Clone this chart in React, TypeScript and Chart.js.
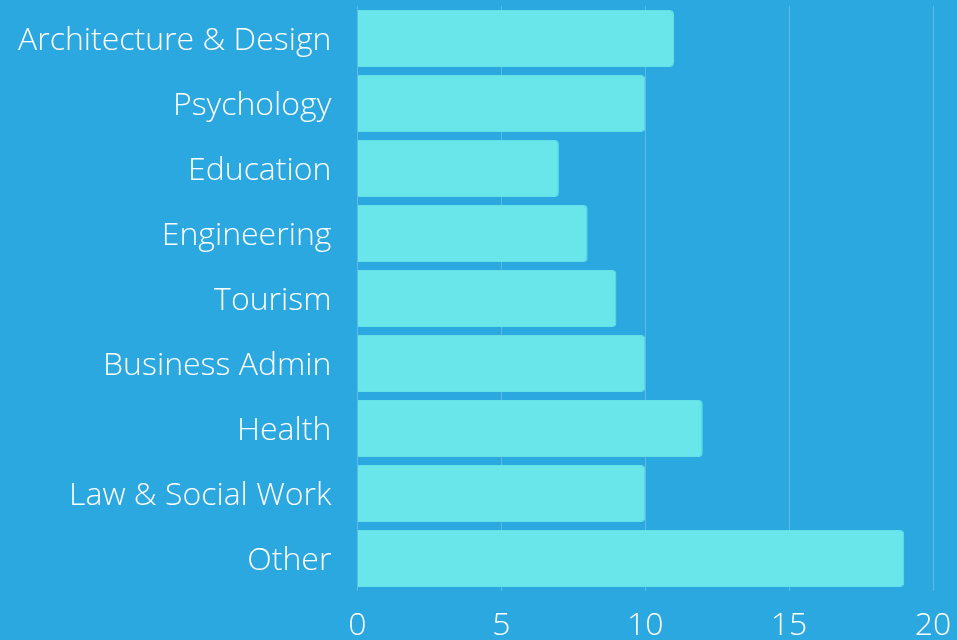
import React, { useEffect, useRef } from "react";
import { Chart, registerables } from "chart.js";

Chart.register(...registerables);

const categories = [
  "Architecture & Design",
  "Psychology",
  "Education",
  "Engineering",
  "Tourism",
  "Business Admin",
  "Health",
  "Law & Social Work",
  "Other",
];
const values = [11, 10, 7, 8, 9, 10, 12, 10, 19];
const xTicks = [0, 5, 10, 15, 20];

export default function App() {
  const ref = useRef<HTMLCanvasElement | null>(null);
  useEffect(() => {
    if (!ref.current) return;
    const font = { family: "'Open Sans'", size: 32, weight: 300 as any };
    const chart = new Chart(ref.current, {
      type: "bar",
      data: {
        labels: categories,
        datasets: [
          {
            data: values,
            backgroundColor: "#69e6e9",
            borderColor: "#64e0e7",
            borderWidth: 1,
            borderRadius: 4,
            borderSkipped: "start",
            categoryPercentage: 0.877,
            barPercentage: 1,
          },
        ],
      },
      options: {
        indexAxis: "y",
        animation: false,
        responsive: false,
        maintainAspectRatio: false,
        layout: { padding: { top: 6, bottom: 0, left: 18, right: 24 } },
        plugins: { legend: { display: false }, tooltip: { enabled: false } },
        scales: {
          x: {
            min: 0,
            max: 20,
            afterBuildTicks: (s: any) => {
              s.ticks = xTicks.map((v) => ({ value: v }));
            },
            afterFit: (s: any) => {
              s.paddingLeft = 0;
              s.paddingRight = 0;
              s.height = 49;
            },
            grid: { color: "rgba(255,255,255,0.22)", drawTicks: false, lineWidth: 1 },
            border: { display: false },
            ticks: { color: "#ffffff", font, padding: 16 },
          },
          y: {
            afterFit: (s: any) => {
              s.paddingTop = 0;
              s.paddingBottom = 0;
            },
            grid: { display: false, drawTicks: true, tickLength: 26, color: "rgba(0,0,0,0)" },
            border: { display: false },
            ticks: { color: "#ffffff", font, padding: 0, labelOffset: 2 },
          },
        },
      },
    });
    return () => chart.destroy();
  }, []);
  return (
    <div
      style={{
        position: "fixed",
        left: 0,
        top: 0,
        width: 957,
        height: 640,
        background: "#2ca8e0",
      }}
    >
      <canvas ref={ref} width={957} height={640} style={{ display: "block" }} />
    </div>
  );
}
